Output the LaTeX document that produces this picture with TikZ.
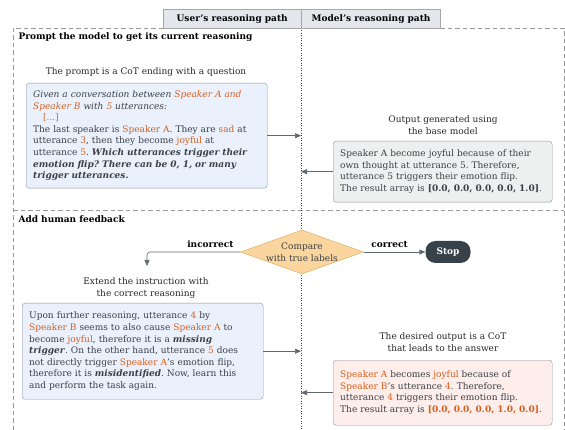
\documentclass[tikz,border=0pt]{standalone}
\usepackage{fontspec}
\setmainfont{DejaVu Serif}
\usetikzlibrary{shapes.geometric,arrows.meta,positioning}
\definecolor{hlc}{HTML}{D4601F}
\definecolor{txt}{HTML}{3B4046}
\definecolor{edge}{HTML}{8C939B}
\definecolor{bluebg}{HTML}{EAF1FC}
\definecolor{graybg}{HTML}{EEF0F0}
\definecolor{pinkbg}{HTML}{FDEDEB}
\definecolor{tabbg}{HTML}{E3E6EA}
\definecolor{diafill}{HTML}{FAD59E}
\definecolor{diaedge}{HTML}{D8A85A}
\definecolor{stopbg}{HTML}{36414A}
\definecolor{linec}{HTML}{5F6870}
\newcommand{\hlt}[1]{\textcolor{hlc}{#1}}
\newcommand{\bi}[1]{\textbf{\textit{#1}}}
\frenchspacing
\begin{document}
\begin{tikzpicture}[x=1pt,y=-1pt,
  every node/.style={font=\fontsize{9}{11.6}\selectfont},
  tbox/.style={draw=edge,rounded corners=3pt,inner xsep=7pt,inner ysep=0pt,text width=#1,align=left,text=txt,anchor=north west},
  captext/.style={align=center,text=black!85},
  frame/.style={draw=black!40,line width=0.8pt,dash pattern=on 4.5pt off 3pt},
  tab/.style={draw=black!35,fill=tabbg,font=\fontsize{9}{11}\selectfont\bfseries,minimum height=19,inner sep=0pt},
  lbl/.style={text=black,font=\fontsize{9}{11}\selectfont\bfseries},
  arr/.style={draw=linec,line width=0.6pt,-{Triangle[length=6pt,width=5pt]}}]
  \useasboundingbox (0,0) rectangle (565,430);
  \draw[frame] (163,28) -- (13,28) -- (13,430);
  \draw[frame] (440,28) -- (564,28) -- (564,430);
  \draw[frame] (13,210) -- (564,210);
  \coordinate (mid) at (301,28);
  \draw[dotted,black!75,line width=0.5pt] (mid) -- (301,430);
  \node[tab,minimum width=138,anchor=north west] (user) at (163,9.5) {User's reasoning path};
  \node[tab,minimum width=139,anchor=west] (model) at (user.east) {Model's reasoning path};
  \node[anchor=west,lbl] (sec1) at (15,37.5) {Prompt the model to get its current reasoning};
  \node[anchor=west,lbl] (sec2) at (15,219) {Add human feedback};

  \node[captext] (pcap) at (146,72) {The prompt is a CoT ending with a question};
  \node[tbox=227pt,fill=bluebg,minimum height=105] (prompt) at (26,83) {\textit{Given a conversation between \hlt{Speaker A and}}\\
    \textit{\hlt{Speaker B} with \hlt{5} utterances:}\\
    \hspace*{10pt}\hlt{[...]}\\
    The last speaker is \hlt{Speaker A}. They are \hlt{sad} at\\
    utterance \hlt{3}, then they become \hlt{joyful} at\\
    utterance \hlt{5}. \bi{Which utterances trigger their}\\
    \bi{emotion flip? There can be 0, 1, or many}\\
    \bi{trigger utterances.}};
  \node[captext] (ocap) at (443,125) {Output generated using\\the base model};
  \node[tbox=205pt,fill=graybg,minimum height=61] (out) at (333,141) {Speaker A become joyful because of their\\
    own thought at utterance 5. Therefore,\\
    utterance 5 triggers their emotion flip.\\
    The result array is \textbf{[0.0, 0.0, 0.0, 0.0, 1.0]}.};
  \draw[arr] (prompt.east) -- (prompt.east -| mid);
  \draw[arr] (out.west) -- (out.west -| mid);

  \node[diamond,draw=diaedge,fill=diafill,minimum width=123,minimum height=44,inner sep=0pt] (cmp) at (302,252) {};
  \node[align=center,text=txt] (cmptxt) at (cmp) {Compare\\with true labels};
  \node[rounded corners=10pt,fill=stopbg,text=white,font=\fontsize{9}{11}\selectfont\bfseries,minimum width=45,minimum height=22] (stop) at (448,252) {Stop};
  \coordinate (inc) at (147,266);
  \draw[arr,rounded corners=3pt] (cmp.west) -| (inc) node[pos=0.16,above=1pt,lbl] (lbinc) {incorrect};
  \draw[arr] (cmp.east) -- (stop.west) node[pos=0.42,above=1pt,lbl] (lbcor) {correct};

  \node[captext] (fcap) at (146,288) {Extend the instruction with\\the correct reasoning};
  \node[tbox=227pt,fill=bluebg,minimum height=96] (feed) at (22,303) {Upon further reasoning, utterance \hlt{4} by\\
    \hlt{Speaker B} seems to also cause \hlt{Speaker A} to\\
    become \hlt{joyful}, therefore it is a \bi{missing}\\
    \bi{trigger}. On the other hand, utterance \hlt{5} does\\
    not directly trigger \hlt{Speaker A}'s emotion flip,\\
    therefore it is \bi{misidentified}. Now, learn this\\
    and perform the task again.};
  \node[captext] (dcap) at (443,342) {The desired output is a CoT\\that leads to the answer};
  \node[tbox=205pt,fill=pinkbg,minimum height=65] (want) at (333,360) {\hlt{Speaker A} becomes \hlt{joyful} because of\\
    \hlt{Speaker B}'s utterance \hlt{4}. Therefore,\\
    utterance \hlt{4} triggers their emotion flip.\\
    The result array is \hlt{\textbf{[0.0, 0.0, 0.0, 1.0, 0.0]}}.};
  \draw[arr] (feed.east) -- (feed.east -| mid);
  \draw[arr] (want.west) -- (want.west -| mid);
\end{tikzpicture}
\end{document}
